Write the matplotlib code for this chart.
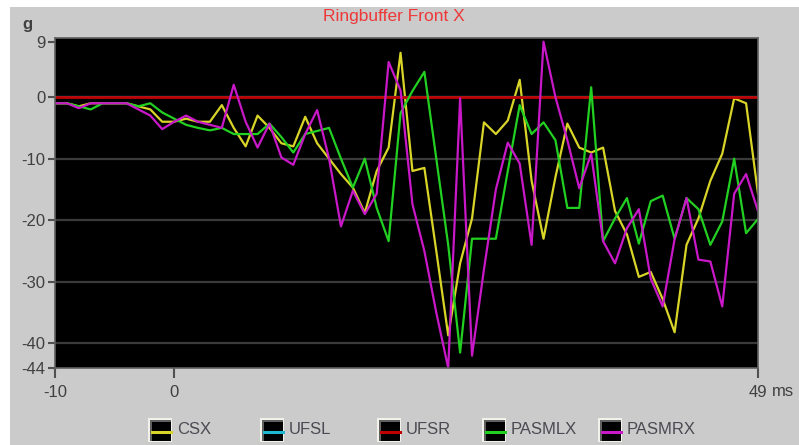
import matplotlib
matplotlib.use("Agg")
import matplotlib.pyplot as plt
from matplotlib.patches import Rectangle
from matplotlib.lines import Line2D

plt.rcParams['font.family'] = ['Liberation Sans', 'DejaVu Sans']

# sample times in ms
time_ms = list(range(-10, 50))

csx = [-1, -1, -1.5, -1, -1, -1, -1, -1.5, -2, -4,
       -4, -3.5, -4, -4, -1.3, -5, -8, -3, -5, -7.5,
       -8, -3.2, -7.5, -10, -12.5, -14.7, -18.8, -12, -8.2, 7.2,
       -12, -11.5, -25, -38.7, -27, -19.7, -4.1, -6, -3.8, 2.8,
       -13.6, -23, -13, -4.3, -8.2, -9, -8.2, -18.5, -22.3, -29.2,
       -28.4, -32.8, -38.2, -24, -19.7, -13.6, -9.2, -0.2, -1, -15.7]
ufsl = [0] * len(time_ms)
ufsr = [0] * len(time_ms)
pasmlx = [-1, -1, -1.5, -2, -1, -1, -1, -1.5, -1, -2.5,
          -3.5, -4.5, -5, -5.4, -5, -6, -6, -6, -4.3, -6.5,
          -9, -6, -5.5, -5, -10, -14.7, -10, -18, -23.4, -2.6,
          1, 4.1, -10, -24, -41.5, -23, -23, -23, -12, -1.3,
          -6, -4.1, -7, -18, -18, 1.6, -23.4, -19.7, -16.4, -23.8,
          -16.9, -16, -23, -16.4, -18.2, -24, -20.2, -10, -22.1, -19.8]
pasmrx = [-1, -1, -1.8, -1, -1, -1, -1, -2, -3, -5.2,
          -4, -3, -4, -4.5, -5, 2, -4, -8.2, -4.3, -9.8,
          -11, -6, -2.1, -10, -21, -15.2, -19, -15.7, 5.7, 1.1,
          -17.4, -25, -35, -44, -0.2, -42, -28, -15, -7.4, -10.8,
          -24, 9, 0, -7, -14.8, -9.2, -23.4, -27, -21.3, -18.2,
          -29.5, -34, -23.1, -16.4, -26.4, -26.7, -34, -15.7, -12.5, -18.5]

names = ['CSX', 'UFSL', 'UFSR', 'PASMLX', 'PASMRX']
colors = ['#d8d428', '#20b8d0', '#c00000', '#22d022', '#c818c8']
series = [csx, ufsl, ufsr, pasmlx, pasmrx]

y_ticks = [9, 0, -10, -20, -30, -40, -44]
x_ticks = [-10, 0, 49]

W, H = 799, 445
fig = plt.figure(figsize=(W / 100, H / 100), dpi=100, facecolor='white')

def px(x, y):
    return x / W, 1 - y / H

# grey window panel
fig.add_artist(Rectangle(px(10, H), (W - 10) / W, (H - 7) / H,
                         transform=fig.transFigure, facecolor='#cbcbcb',
                         edgecolor='none', zorder=0))

ax = fig.add_axes([55 / W, 1 - 368 / H, (758 - 55) / W, (368 - 38) / H])
ax.set_facecolor('black')

for g in [-10, -20, -30, -40]:
    ax.axhline(g, color='#3a3a3a', lw=1.6, zorder=1)

for vals, c in zip(series, colors):
    ax.plot(time_ms, vals, color=c, lw=1.6 if c != '#c00000' else 2.0, zorder=2)

ax.set_xlim(-10, 49)
ax.set_ylim(-44, 9.6)
ax.set_yticks(y_ticks)
ax.set_yticklabels([str(v) for v in y_ticks])
ax.set_xticks(x_ticks)
ax.set_xticklabels(['-10', '0', '49'])
ax.tick_params(axis='y', length=5, width=1.5, color='#505050', pad=2,
               labelsize=12, labelcolor='#404040')
ax.tick_params(axis='x', length=7, width=1.5, color='#505050', pad=5,
               labelsize=12, labelcolor='#404040')
for s in ax.spines.values():
    s.set_color('#606060')
    s.set_linewidth(1.2)

fig.text(*px(783, 391), 'ms', ha='center', va='center', fontsize=12, color='#404040')
fig.text(*px(27, 24), 'g', ha='center', va='center', fontsize=12,
         fontweight='bold', color='#404040')
fig.text(*px(394, 16), 'Ringbuffer Front X', ha='center', va='center',
         fontsize=12.5, color='#ee3838')

# legend with small framed icons
icon_x = [148, 260, 377, 482, 598]
for x0, name, c in zip(icon_x, names, colors):
    fig.add_artist(Rectangle(px(x0, 442), 24 / W, 24 / H, transform=fig.transFigure,
                             facecolor='#f2f2ea', edgecolor='none', zorder=3))
    fig.add_artist(Rectangle(px(x0 + 2, 441), 21 / W, 21 / H, transform=fig.transFigure,
                             facecolor='#606060', edgecolor='none', zorder=3))
    fig.add_artist(Rectangle(px(x0 + 4, 441), 19 / W, 19 / H, transform=fig.transFigure,
                             facecolor='black', edgecolor='none', zorder=3))
    lx0, ly = px(x0 + 4, 432)
    lx1, _ = px(x0 + 23, 432)
    fig.add_artist(Line2D([lx0, lx1], [ly, ly], transform=fig.transFigure,
                          color=c, lw=2.2, zorder=4))
    fig.text(*px(x0 + 29, 430), name, ha='left', va='center', fontsize=12,
             color='#4a4a52')

fig.savefig('out.png', dpi=100, facecolor=fig.get_facecolor())
